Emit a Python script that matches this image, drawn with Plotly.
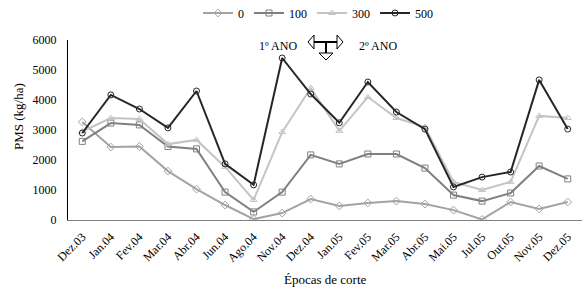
import plotly.graph_objects as go

categories = ["Dez.03", "Jan.04", "Fev.04", "Mar.04", "Abr.04", "Jun.04", "Ago.04", "Nov.04",
              "Dez.04", "Jan.05", "Fev.05", "Mar.05", "Abr.05", "Mai.05", "Jul.05", "Out.05",
              "Nov.05", "Dez.05"]
s0 = [3270, 2430, 2450, 1630, 1030, 500, 30, 230, 700, 470, 570, 630, 530, 330, 20, 600, 370, 600]
s100 = [2620, 3230, 3170, 2450, 2370, 930, 270, 930, 2170, 1870, 2200, 2200, 1730, 830, 630, 900, 1800, 1370]
s300 = [2950, 3400, 3370, 2530, 2670, 1770, 670, 2930, 4400, 2970, 4100, 3400, 3100, 1270, 1000, 1270, 3470, 3400]
s500 = [2900, 4170, 3700, 3070, 4300, 1870, 1170, 5400, 4200, 3240, 4600, 3600, 3030, 1100, 1430, 1600, 4670, 3030]
series_names = ["0", "100", "300", "500"]
y_ticks = [0, 1000, 2000, 3000, 4000, 5000, 6000]

colors = ["#a3a3a3", "#808080", "#c4c4c4", "#262626"]
symbols = ["diamond-open", "square-open", "triangle-up-open", "circle-open"]

FONT = "Liberation Serif, Times New Roman, serif"
fig = go.Figure()
for name, vals, c, sym in zip(series_names, [s0, s100, s300, s500], colors, symbols):
    fig.add_trace(go.Scatter(
        x=categories, y=vals, name=name, mode="lines+markers",
        line=dict(color=c, width=2),
        marker=dict(symbol=sym, size=6, color=c, line=dict(width=1, color=c)),
    ))

W, H = 582, 289
L, R, T, B = 68, 0, 40, 69

def px(x):
    return (x - L) / (W - L - R)

def py(y):
    return 1 - (y - T) / (H - T - B)

shapes = []
shapes.append(dict(type="line", xref="paper", yref="paper", x0=px(314), x1=px(337), y0=py(42), y1=py(42),
                   line=dict(color="black", width=2)))
shapes.append(dict(type="line", xref="paper", yref="paper", x0=px(326), x1=px(326), y0=py(42), y1=py(53),
                   line=dict(color="black", width=2)))
shapes.append(dict(type="path", xref="paper", yref="paper",
                   path=f"M{px(314)},{py(35)} L{px(308)},{py(42)} L{px(314)},{py(49)} Z",
                   line=dict(color="black", width=1), fillcolor="white"))
shapes.append(dict(type="path", xref="paper", yref="paper",
                   path=f"M{px(337)},{py(35)} L{px(343)},{py(42)} L{px(337)},{py(49)} Z",
                   line=dict(color="black", width=1), fillcolor="white"))
shapes.append(dict(type="path", xref="paper", yref="paper",
                   path=f"M{px(319)},{py(53)} L{px(333)},{py(53)} L{px(326)},{py(60)} Z",
                   line=dict(color="black", width=1), fillcolor="white"))

annotations = [
    dict(text="1º ANO", xref="paper", yref="paper", x=px(278), y=py(46), showarrow=False,
         font=dict(family=FONT, size=12, color="black"), xanchor="center", yanchor="middle"),
    dict(text="2º ANO", xref="paper", yref="paper", x=px(378), y=py(46), showarrow=False,
         font=dict(family=FONT, size=12, color="black"), xanchor="center", yanchor="middle"),
    dict(text="Épocas de corte", xref="paper", yref="paper", x=0.5, y=py(279), showarrow=False,
         font=dict(family=FONT, size=13, color="black"), xanchor="center", yanchor="middle"),
    dict(text="PMS (kg/ha)", xref="paper", yref="paper", x=px(18), y=py(117), showarrow=False,
         textangle=-90, font=dict(family=FONT, size=13, color="black"),
         xanchor="center", yanchor="middle"),
]

fig.update_layout(
    width=W, height=H,
    margin=dict(l=L, r=R, t=T, b=B, autoexpand=False),
    paper_bgcolor="white", plot_bgcolor="white",
    font=dict(family=FONT, size=12, color="black"),
    showlegend=True,
    legend=dict(orientation="h", x=px(318), xanchor="center", y=py(13), yanchor="middle",
                yref="paper",
                font=dict(family=FONT, size=12), itemwidth=30, tracegroupgap=0,
                bgcolor="rgba(0,0,0,0)"),
    xaxis=dict(type="category", tickangle=-45, showgrid=False, showline=True,
               linecolor="#7f7f7f", linewidth=1, ticks="", zeroline=False, automargin=False,
               ticklabelstandoff=4,
               tickfont=dict(family=FONT, size=12), range=[-0.5, 17.5]),
    yaxis=dict(range=[0, 6000], tickvals=y_ticks, showgrid=False, showline=True,
               linecolor="black", linewidth=1, ticks="", zeroline=False, automargin=False,
               ticklabelstandoff=8,
               tickfont=dict(family=FONT, size=12)),
    shapes=shapes, annotations=annotations,
)

fig.write_html("out.html", config={"displayModeBar": False},
               post_script="document.body.style.margin='0px';document.body.style.padding='0px';")
